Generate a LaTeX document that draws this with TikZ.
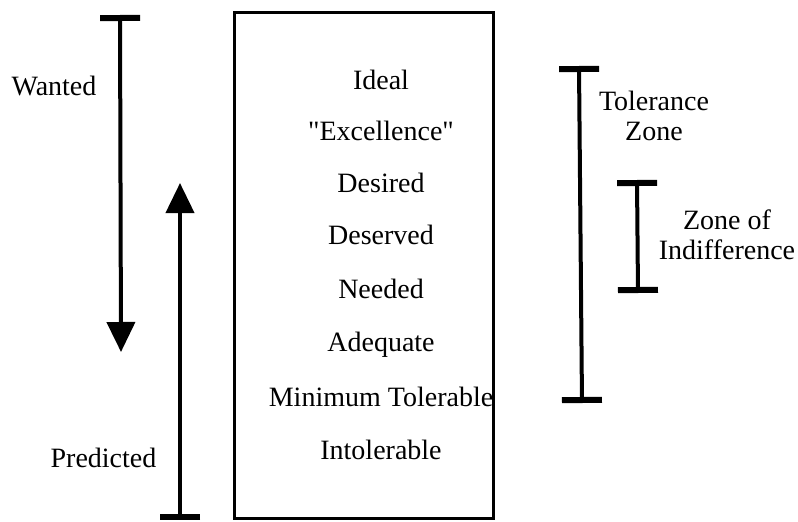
\documentclass[tikz,border=0pt]{standalone}
\usepackage{fontspec}
\newfontfamily\levelfont{Liberation Serif}
\usetikzlibrary{arrows.meta}

\begin{document}
\begin{tikzpicture}[x=1pt,y=-1pt,
    level/.style={font=\levelfont\fontsize{28}{30}\selectfont, inner sep=0pt, text height=19pt, text depth=6pt},
    tag/.style={font=\levelfont\fontsize{28}{30}\selectfont, inner sep=0pt, align=center},
    zonebar/.style={line width=4pt, {Bar[width=40pt,line width=6pt]}-{Bar[width=40pt,line width=6pt]}},
    trend/.style={line width=4pt, {Bar[width=40pt,line width=6pt]}-{Triangle[length=30pt,width=28pt]}}]
  \useasboundingbox (0,0) rectangle (798,522);

  % the scale of expectation levels
  \node[draw, line width=3pt, minimum width=259pt, minimum height=506pt, inner sep=0pt] (scale) at (363.5,265) {};
  \foreach \name/\y/\txt in {ideal/83/Ideal, excellence/134/"Excellence", desired/186/Desired,
      deserved/238/Deserved, needed/292/Needed, adequate/345/Adequate,
      minimum/400/Minimum Tolerable, intolerable/453/Intolerable}
    \node[level] (\name) at (381,\y) {\txt};

  % wanted and predicted
  \coordinate (wantedtop) at (120,15);
  \coordinate (wantedtip) at (121,352);
  \draw[trend] (wantedtop) -- (wantedtip);
  \node[tag] (wanted) at (54,86) {Wanted};

  \coordinate (predictedbot) at (180,520);
  \coordinate (predictedtip) at (180,183);
  \draw[trend] (predictedbot) -- (predictedtip);
  \node[tag] (predicted) at (103.5,458) {Predicted};

  % zones
  \coordinate (toltop) at (579,66);
  \coordinate (tolbot) at (582,403);
  \draw[zonebar] (toltop) -- (tolbot);
  \node[tag] (tolerance) at (654,116) {Tolerance\\Zone};

  \coordinate (inditop) at (637,180);
  \coordinate (indibot) at (638,293);
  \draw[zonebar] (inditop) -- (indibot);
  \node[tag] (indifference) at (727,235) {Zone of\\Indifference};
\end{tikzpicture}
\end{document}
